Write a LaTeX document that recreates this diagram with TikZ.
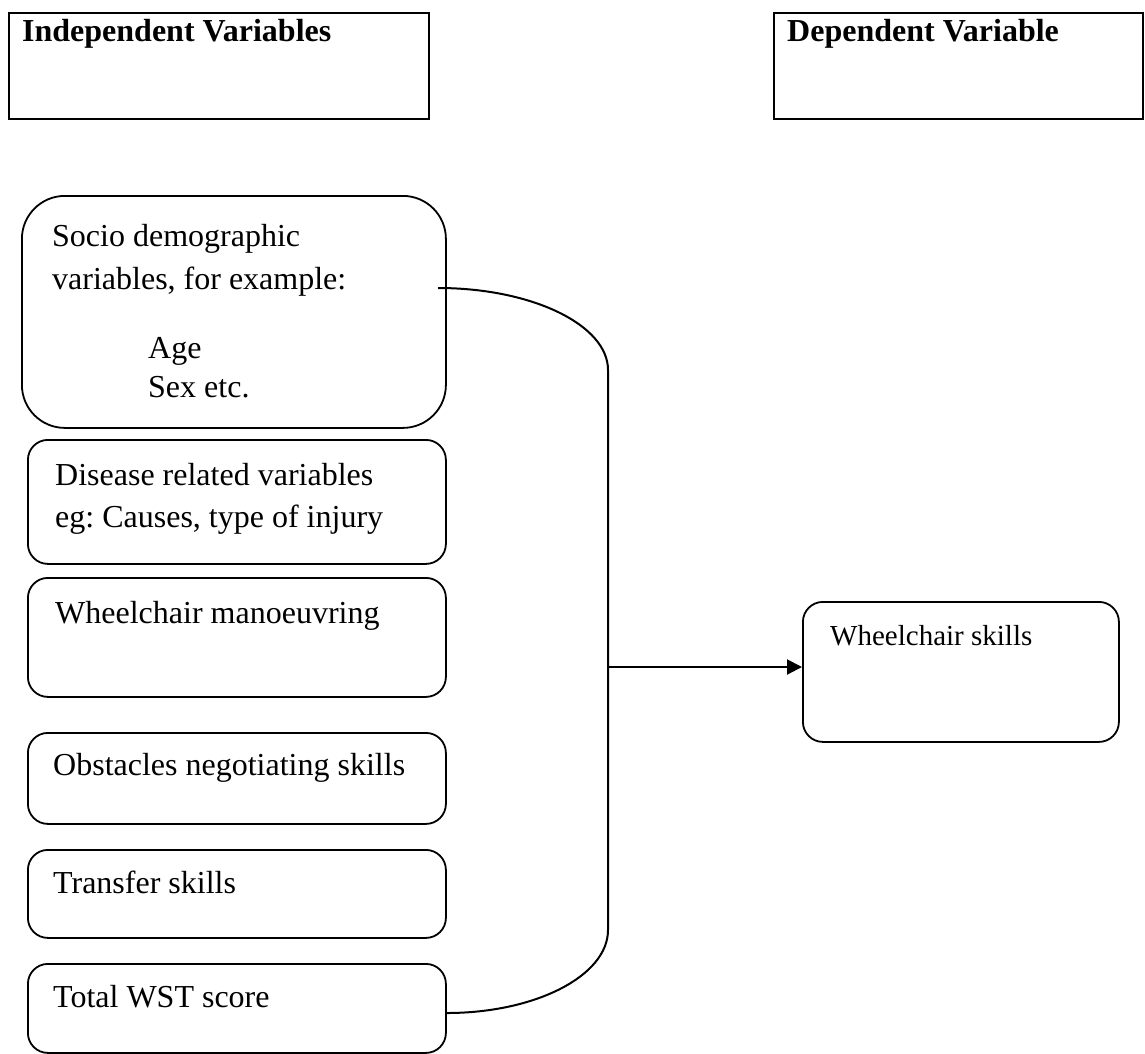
\documentclass[tikz,border=0pt]{standalone}
\usepackage{fontspec}
\setmainfont{Liberation Serif}
\usetikzlibrary{arrows.meta}
\frenchspacing
\tikzset{
  plainbox/.style={draw, line width=2.4pt, rectangle, inner sep=0pt, anchor=north west},
  roundbox/.style={draw, line width=1.8pt, rectangle, rounded corners=20pt, inner sep=0pt, anchor=north west},
  lbl/.style={anchor=base west, inner sep=0pt, font=\fontsize{32}{38}\selectfont},
  hdr/.style={anchor=base west, inner sep=0pt, font=\fontsize{32}{38}\selectfont\bfseries},
  conn/.style={line width=2pt},
}
\begin{document}
\begin{tikzpicture}[x=1pt,y=-1pt]
\useasboundingbox (0,0) rectangle (1145,1053);
% header boxes
\node[plainbox, minimum width=420pt, minimum height=106pt] (indep) at (8,12) {};
\node[plainbox, minimum width=369pt, minimum height=106pt] (dep) at (773,12) {};
\node[hdr] (indept) at (22,41) {Independent Variables};
\node[hdr] (dept) at (787,41) {Dependent Variable};
% left boxes
\node[roundbox, rounded corners=43pt, minimum width=424pt, minimum height=232pt] (socio) at (21,195) {};
\node[roundbox, minimum width=418pt, minimum height=124pt] (disease) at (27,439) {};
\node[roundbox, minimum width=418pt, minimum height=119pt] (manoeuv) at (27,577) {};
\node[roundbox, minimum width=418pt, minimum height=91pt] (obst) at (27,732) {};
\node[roundbox, minimum width=418pt, minimum height=88pt] (transfer) at (27,849) {};
\node[roundbox, minimum width=418pt, minimum height=89pt] (total) at (27,963) {};
% right box
\node[roundbox, minimum width=316pt, minimum height=140pt] (wsk) at (802,601) {};
% texts
\node[lbl] (s1) at (52,246) {Socio demographic};
\node[lbl] (s2) at (52,289) {variables, for example:};
\node[lbl] (s3) at (148,358) {Age};
\node[lbl] (s4) at (148,397) {Sex etc.};
\node[lbl] (d1) at (55,485) {Disease related variables};
\node[lbl] (d2) at (55,527) {eg: Causes, type of injury};
\node[lbl] (m1) at (55,623) {Wheelchair manoeuvring};
\node[lbl] (o1) at (53,775) {Obstacles negotiating skills};
\node[lbl] (t1) at (53,893) {Transfer skills};
\node[lbl] (w1) at (53,1007) {Total WST score};
\node[lbl, font=\fontsize{29}{34}\selectfont] (r1) at (830,645) {Wheelchair skills};
% bracket connector
\coordinate (bstart) at (438,288);
\coordinate (btop) at (608,370);
\coordinate (bbot) at (608,930);
\coordinate (bend) at (total.east |- 0,1013);
\coordinate (bmid) at (608,667);
\draw[conn] (bstart) .. controls (532,288) and (608,325) .. (btop)
  -- (bbot) .. controls (608,976) and (535,1013) .. (bend);
\draw[conn, -{Triangle[length=15pt,width=15pt]}] (bmid) -- (wsk.west |- bmid);
\end{tikzpicture}
\end{document}
